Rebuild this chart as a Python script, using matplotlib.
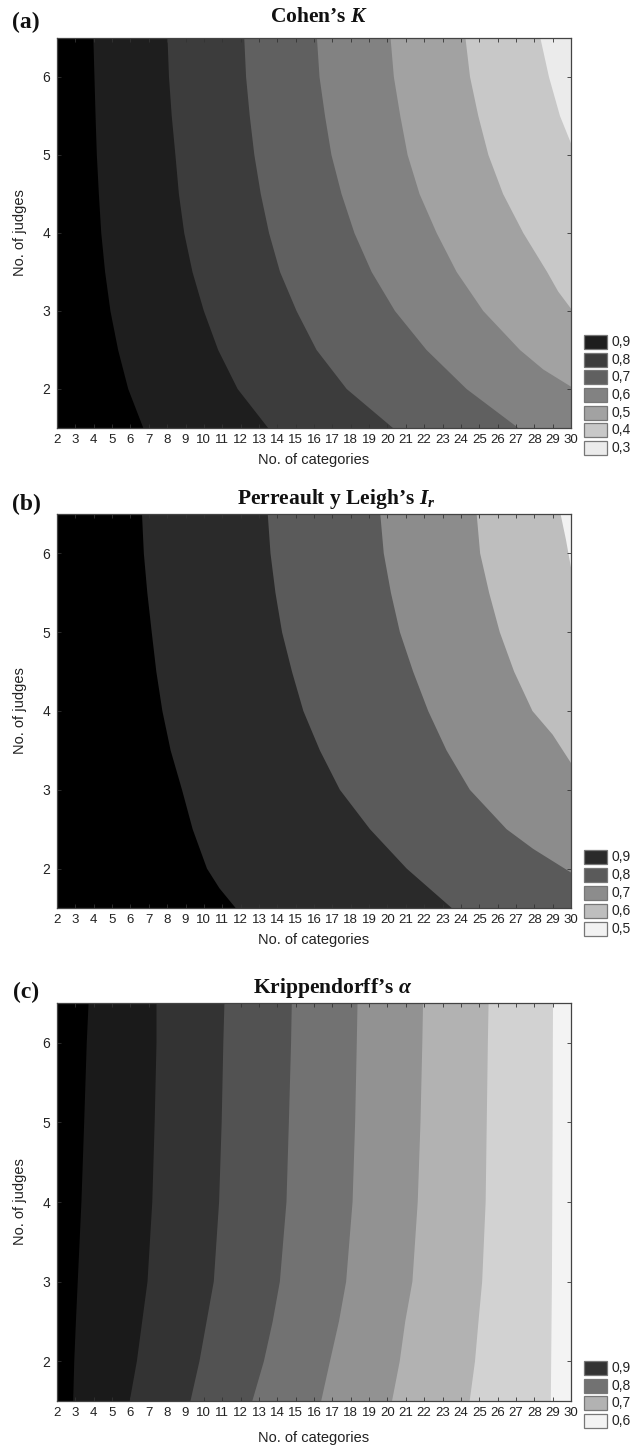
import matplotlib
matplotlib.use("Agg")
import matplotlib.pyplot as plt
from matplotlib.patches import Rectangle
from matplotlib import font_manager

# ---------------- data ----------------
CAT_MIN, CAT_MAX = 2, 30
JUDGE_MIN, JUDGE_MAX = 1.5, 6.5
category_ticks = list(range(2, 31))
judge_ticks = [2, 3, 4, 5, 6]

J11 = [6.5, 6.0, 5.5, 5.0, 4.5, 4.0, 3.5, 3.0, 2.5, 2.0, 1.5]

# (a) Cohen's K : contour boundaries (No. of categories at given No. of judges)
kappa_b1 = ([3.98, 4.04, 4.10, 4.17, 4.28, 4.41, 4.62, 4.91, 5.33, 5.88, 6.70], J11)
kappa_b2 = ([8.02, 8.10, 8.25, 8.45, 8.64, 8.93, 9.38, 10.0, 10.78, 11.84, 13.5], J11)
kappa_b3 = ([12.2, 12.3, 12.5, 12.75, 13.1, 13.55, 14.15, 15.05, 16.14, 17.78, 20.3], J11)
kappa_b4 = ([16.16, 16.3, 16.6, 16.95, 17.5, 18.2, 19.14, 20.41, 22.13, 24.31, 27.13], J11)
kappa_b5 = ([20.17, 20.35, 20.7, 21.1, 21.75, 22.68, 23.77, 25.22, 27.22, 28.49, 30.0],
            [6.5, 6.0, 5.5, 5.0, 4.5, 4.0, 3.5, 3.0, 2.5, 2.25, 2.03])
kappa_b6 = ([24.25, 24.5, 24.95, 25.5, 26.3, 27.4, 28.7, 29.3, 30.0],
            [6.5, 6.0, 5.5, 5.0, 4.5, 4.0, 3.5, 3.25, 3.03])
kappa_b7 = ([28.33, 28.8, 29.1, 29.4, 30.0], [6.5, 6.0, 5.75, 5.5, 5.15])
kappa_bounds = [kappa_b1, kappa_b2, kappa_b3, kappa_b4, kappa_b5, kappa_b6, kappa_b7]
kappa_legend = ["0,9", "0,8", "0,7", "0,6", "0,5", "0,4", "0,3"]

# (b) Perreault y Leigh's Ir
pl_b1 = ([6.63, 6.73, 6.92, 7.16, 7.41, 7.74, 8.19, 8.81, 9.39, 10.17, 10.85, 11.73],
         [6.5, 6.0, 5.5, 5.0, 4.5, 4.0, 3.5, 3.0, 2.5, 2.0, 1.75, 1.5])
pl_b2 = ([13.48, 13.63, 13.9, 14.26, 14.8, 15.42, 16.32, 17.41, 19.05, 21.05, 23.5], J11)
pl_b3 = ([19.61, 19.8, 20.19, 20.68, 21.4, 22.22, 23.22, 24.49, 26.49, 27.94, 30.0],
         [6.5, 6.0, 5.5, 5.0, 4.5, 4.0, 3.5, 3.0, 2.5, 2.25, 1.95])
pl_b4 = ([24.86, 25.05, 25.54, 26.12, 26.9, 27.9, 29.0, 30.0],
         [6.5, 6.0, 5.5, 5.0, 4.5, 4.0, 3.7, 3.34])
pl_b5 = ([29.43, 29.72, 30.0], [6.5, 6.18, 5.82])
pl_bounds = [pl_b1, pl_b2, pl_b3, pl_b4, pl_b5]
pl_legend = ["0,9", "0,8", "0,7", "0,6", "0,5"]

# (c) Krippendorff's alpha
J8 = [6.5, 6.0, 5.0, 4.0, 3.0, 2.5, 2.0, 1.5]
ka_b1 = ([3.72, 3.62, 3.48, 3.33, 3.13, 3.03, 2.94, 2.88], J8)
ka_b2 = ([7.42, 7.42, 7.32, 7.19, 6.93, 6.64, 6.35, 5.96], J8)
ka_b3 = ([11.12, 11.06, 10.97, 10.83, 10.54, 10.15, 9.76, 9.27], J8)
ka_b4 = ([14.79, 14.75, 14.63, 14.5, 14.14, 13.75, 13.27, 12.64], J8)
ka_b5 = ([18.37, 18.33, 18.24, 18.1, 17.75, 17.36, 16.87, 16.39], J8)
ka_b6 = ([21.94, 21.9, 21.8, 21.65, 21.36, 20.97, 20.67, 20.25], J8)
ka_b7 = ([25.51, 25.47, 25.41, 25.35, 25.16, 24.96, 24.77, 24.48], J8)
ka_b8 = ([29.02, 29.01, 29.0, 28.98, 28.96, 28.94, 28.92, 28.9], J8)
ka_bounds = [ka_b1, ka_b2, ka_b3, ka_b4, ka_b5, ka_b6, ka_b7, ka_b8]
ka_legend = ["0,9", "0,8", "0,7", "0,6"]

# ---------------- style ----------------
kappa_colors = ["#000000", "#1e1e1e", "#3c3c3c", "#606060", "#828282",
                "#a2a2a2", "#c8c8c8", "#ebebeb"]
kappa_leg_colors = ["#1e1e1e", "#3c3c3c", "#606060", "#828282", "#a2a2a2", "#c8c8c8", "#ebebeb"]
pl_colors = ["#000000", "#2a2a2a", "#5a5a5a", "#8c8c8c", "#bebebe", "#f2f2f2"]
pl_leg_colors = ["#2a2a2a", "#5a5a5a", "#8c8c8c", "#bebebe", "#f2f2f2"]
ka_colors = ["#000000", "#1a1a1a", "#333333", "#525252", "#727272", "#929292",
             "#b2b2b2", "#d2d2d2", "#f3f3f3"]
ka_leg_colors = ["#333333", "#727272", "#b2b2b2", "#f3f3f3"]

names = {f.name for f in font_manager.fontManager.ttflist}
NARROW = "Liberation Sans Narrow" if "Liberation Sans Narrow" in names else "Liberation Sans"
SANS = "Liberation Sans"
SERIF = "Liberation Serif"

plt.rcParams["mathtext.fontset"] = "custom"
plt.rcParams["mathtext.rm"] = "Liberation Serif:bold"
plt.rcParams["mathtext.it"] = "Liberation Serif:bold:italic"
plt.rcParams["mathtext.bf"] = "Liberation Serif:bold"

W, H = 635, 1448
fig = plt.figure(figsize=(W / 100, H / 100), dpi=100)


def fx(x):
    return x / W


def fy(y):
    return 1 - y / H


panels = [
    dict(top=38, bottom=428, bounds=kappa_bounds, colors=kappa_colors,
         leg=kappa_legend, leg_colors=kappa_leg_colors, leg_top=335, leg_step=17.7,
         title="Cohen\u2019s $K$", title_x=319, title_y=17, tag="(a)", tag_y=22, xlab_y=460),
    dict(top=514, bottom=908, bounds=pl_bounds, colors=pl_colors,
         leg=pl_legend, leg_colors=pl_leg_colors, leg_top=850, leg_step=18.0,
         title="Perreault y Leigh\u2019s $I_r$", title_x=336, title_y=499, tag="(b)", tag_y=504,
         xlab_y=940),
    dict(top=1003, bottom=1401, bounds=ka_bounds, colors=ka_colors,
         leg=ka_legend, leg_colors=ka_leg_colors, leg_top=1361, leg_step=17.7,
         title="Krippendorff\u2019s $\\alpha$", title_x=333, title_y=988, tag="(c)", tag_y=992,
         xlab_y=1438),
]

L, R = 57, 571
for p in panels:
    ax = fig.add_axes([fx(L), fy(p["bottom"]), (R - L) / W, (p["bottom"] - p["top"]) / H])
    ax.set_xlim(CAT_MIN, CAT_MAX)
    ax.set_ylim(JUDGE_MIN, JUDGE_MAX)
    cols = p["colors"]
    ax.set_facecolor(cols[-1])
    pairs = list(zip(p["bounds"], cols[:-1]))
    for (cats, judges), col in reversed(pairs):
        xs = [CAT_MIN] + list(cats) + [cats[-1], CAT_MIN]
        ys = [JUDGE_MAX] + list(judges) + [JUDGE_MIN, JUDGE_MIN]
        ax.fill(xs, ys, color=col, lw=0, zorder=1)
    ax.set_xticks(category_ticks)
    ax.set_xticklabels([str(c) for c in category_ticks], fontfamily=NARROW, fontsize=9.5)
    ax.set_yticks(judge_ticks)
    ax.set_yticklabels([str(j) for j in judge_ticks], fontfamily=SANS, fontsize=10)
    ax.tick_params(direction="in", length=3, width=0.6, color="#333333",
                   top=True, right=True, pad=4, labelcolor="#222222")
    ax.tick_params(axis="y", pad=5)
    for s in ax.spines.values():
        s.set_color("#444444")
        s.set_linewidth(0.9)
        s.set_zorder(5)

    # titles and labels
    fig.text(fx(p["title_x"]), fy(p["title_y"]), p["title"], ha="center", va="center",
             fontfamily=SERIF, fontweight="bold", fontsize=15.5, color="#111111")
    fig.text(fx(26), fy(p["tag_y"]), p["tag"], ha="center", va="center",
             fontfamily=SERIF, fontweight="bold", fontsize=17, color="#111111")
    fig.text(fx(314), fy(p["xlab_y"]), "No. of categories", ha="center", va="center",
             fontfamily=NARROW, fontsize=10.5, color="#222222")
    fig.text(fx(20), fy((p["top"] + p["bottom"]) / 2), "No. of judges", ha="center",
             va="center", rotation=90, fontfamily=NARROW, fontsize=10.5, color="#222222")

    # legend
    for i, (lab, col) in enumerate(zip(p["leg"], p["leg_colors"])):
        y0 = p["leg_top"] + i * p["leg_step"]
        fig.add_artist(Rectangle((fx(584), fy(y0 + 14)), 23 / W, 14 / H,
                                 transform=fig.transFigure, facecolor=col,
                                 edgecolor="#777777", linewidth=0.9))
        fig.text(fx(612), fy(y0 + 7), lab, ha="left", va="center",
                 fontfamily=SANS, fontsize=10, color="#222222")

fig.savefig("out.png", dpi=100)
